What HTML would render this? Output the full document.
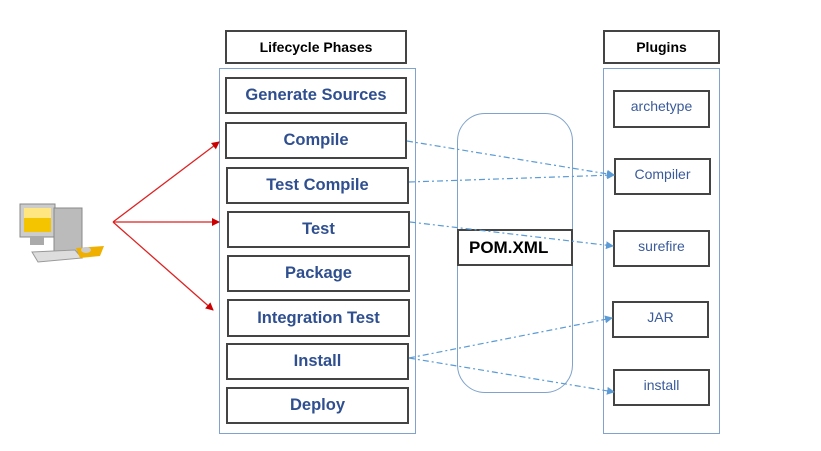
<!DOCTYPE html><html><head><style>
body{margin:0;width:821px;height:451px;background:#fff;position:relative;font-family:"Liberation Sans",sans-serif;overflow:hidden}
.b{position:absolute;box-sizing:border-box;border:2px solid #444;background:#fff;display:flex;align-items:center;justify-content:center;font-weight:bold;font-size:16.5px;color:#2f4f8f}
.p{font-weight:normal;font-size:14px;color:#3a5a9a;border-width:2px;padding-bottom:6px}
.h{color:#000;font-size:14px}
.c{position:absolute;box-sizing:border-box;border:1.5px solid #7fa3cc}
</style></head><body>
<div class="c" style="left:219px;top:68px;width:197px;height:366px"></div>
<div class="c" style="left:603px;top:68px;width:117px;height:366px"></div>
<div class="c" style="left:457px;top:113px;width:116px;height:280px;border-radius:28px"></div>
<div class="b h" style="left:225px;top:30px;width:182px;height:34px">Lifecycle Phases</div>
<div class="b h" style="left:603px;top:30px;width:117px;height:34px">Plugins</div>
<div class="b" style="left:225px;top:77px;width:182px;height:37px">Generate Sources</div>
<div class="b" style="left:225px;top:122px;width:182px;height:37px">Compile</div>
<div class="b" style="left:226px;top:167px;width:183px;height:37px">Test Compile</div>
<div class="b" style="left:227px;top:211px;width:183px;height:37px">Test</div>
<div class="b" style="left:227px;top:255px;width:183px;height:37px">Package</div>
<div class="b" style="left:227px;top:299px;width:183px;height:38px">Integration Test</div>
<div class="b" style="left:226px;top:343px;width:183px;height:37px">Install</div>
<div class="b" style="left:226px;top:387px;width:183px;height:37px">Deploy</div>
<div class="b h" style="left:457px;top:229px;width:116px;height:37px;font-size:17px;justify-content:flex-start;padding-left:10px">POM.XML</div>
<div class="b p" style="left:613px;top:90px;width:97px;height:38px">archetype</div>
<div class="b p" style="left:614px;top:158px;width:97px;height:37px">Compiler</div>
<div class="b p" style="left:613px;top:230px;width:97px;height:37px">surefire</div>
<div class="b p" style="left:612px;top:301px;width:97px;height:37px">JAR</div>
<div class="b p" style="left:613px;top:369px;width:97px;height:37px">install</div>
<svg width="821" height="451" style="position:absolute;left:0;top:0">
<defs><marker id="r" markerWidth="8" markerHeight="8" refX="7" refY="4" orient="auto" markerUnits="userSpaceOnUse"><path d="M0,0L8,4L0,8z" fill="#c00"/></marker>
<marker id="bl" markerWidth="8" markerHeight="8" refX="7" refY="4" orient="auto" markerUnits="userSpaceOnUse"><path d="M0,0L8,4L0,8z" fill="#5b9bd5"/></marker></defs>
<g stroke="#d22" stroke-width="1.3" fill="none">
<line x1="113" y1="222" x2="219" y2="142" marker-end="url(#r)"/>
<line x1="113" y1="222" x2="219" y2="222" marker-end="url(#r)"/>
<line x1="113" y1="222" x2="213" y2="310" marker-end="url(#r)"/></g>
<g stroke="#5b9bd5" stroke-width="1.2" stroke-dasharray="6,3,2,3" fill="none">
<line x1="407" y1="141" x2="614" y2="175" marker-end="url(#bl)"/>
<line x1="409" y1="182" x2="614" y2="175" marker-end="url(#bl)"/>
<line x1="410" y1="222" x2="613" y2="246" marker-end="url(#bl)"/>
<line x1="409" y1="358" x2="612" y2="318" marker-end="url(#bl)"/>
<line x1="409" y1="358" x2="614" y2="392" marker-end="url(#bl)"/></g>
<g>
<rect x="20" y="204" width="35" height="33" fill="#ccc" stroke="#888"/>
<rect x="24" y="208" width="27" height="24" fill="#f5c400"/>
<rect x="24" y="208" width="27" height="10" fill="#ffe680"/>
<rect x="54" y="208" width="28" height="44" fill="#bbb" stroke="#888"/>
<rect x="30" y="237" width="14" height="8" fill="#aaa"/>
<polygon points="32,252 75,250 82,258 38,262" fill="#ddd" stroke="#999"/>
<polygon points="76,248 104,246 100,256 80,258" fill="#f0b000"/>
<ellipse cx="86" cy="250" rx="5" ry="3" fill="#ccc"/>
</g></svg>
</body></html>
